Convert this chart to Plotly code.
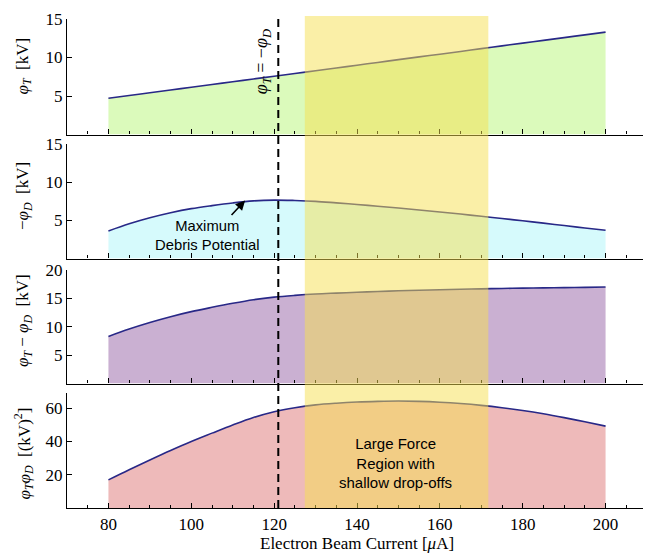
import plotly.graph_objects as go

# ---- data ----
current = [80, 85, 90, 95, 100, 105, 110, 115, 120, 125, 130, 135, 140, 145, 150, 155, 160, 165, 170, 175, 180, 185, 190, 195, 200]
phi_T = [4.70, 5.06, 5.42, 5.78, 6.13, 6.49, 6.85, 7.21, 7.57, 7.93, 8.28, 8.64, 9.00, 9.36, 9.72, 10.08, 10.43, 10.79, 11.15, 11.51, 11.87, 12.22, 12.58, 12.94, 13.30]
neg_phi_D = [3.60, 4.54, 5.33, 5.99, 6.53, 6.93, 7.28, 7.55, 7.65, 7.60, 7.49, 7.29, 7.08, 6.85, 6.62, 6.36, 6.10, 5.82, 5.53, 5.24, 4.94, 4.63, 4.32, 4.00, 3.70]
phi_diff = [8.30, 9.60, 10.75, 11.77, 12.66, 13.42, 14.13, 14.76, 15.22, 15.53, 15.77, 15.93, 16.08, 16.21, 16.34, 16.44, 16.53, 16.61, 16.68, 16.75, 16.81, 16.85, 16.90, 16.94, 17.00]
phi_prod = [16.9, 23.0, 28.9, 34.6, 40.0, 45.0, 49.9, 54.4, 57.9, 60.3, 62.0, 63.0, 63.7, 64.1, 64.3, 64.1, 63.6, 62.8, 61.7, 60.3, 58.6, 56.6, 54.3, 51.8, 49.2]

crossing_current = 121.0
band_start, band_end = 127.4, 171.7
max_debris_x, max_debris_y = 113.0, 7.6

x_ticks = [80, 100, 120, 140, 160, 180, 200]
y_ticks = [[5, 10, 15], [5, 10, 15], [5, 10, 15, 20], [20, 40, 60]]
y_ranges = [[0, 15], [0, 15], [0, 20], [0, 69.3]]
y_titles = ["<i>φ</i><sub><i>T</i></sub>  [kV]",
            "−<i>φ</i><sub><i>D</i></sub>  [kV]",
            "<i>φ</i><sub><i>T</i></sub> − <i>φ</i><sub><i>D</i></sub>  [kV]",
            "<i>φ</i><sub><i>T</i></sub><i>φ</i><sub><i>D</i></sub>  [(kV)<sup>2</sup>]"]
series = [phi_T, neg_phi_D, phi_diff, phi_prod]
fills = ["rgb(219,250,187)", "rgb(214,250,252)", "rgb(202,176,210)", "rgb(238,186,186)"]

# page has an 8px body margin: figure coordinates = reference pixels - OFF
OFF = 8
W, H = 651 - OFF, 554 - OFF
L, R, T, B = 67 - OFF, 4, 19 - OFF, 46
plot_h = H - T - B


def py(ypx):
    return (H - B - (ypx - OFF)) / plot_h


def px(xpx):
    return ((xpx - OFF) - L) / (W - L - R)


domains = [[py(134.5), 1.0], [py(258.5), py(144)], [py(383.5), py(270)], [0.0, py(392.7)]]
title_centers = [66.5, 196, 321, 453.5]

serif = "Liberation Serif"
sans = "Liberation Sans"
line_col = "rgb(40,40,135)"

fig = go.Figure()
layout = dict(
    width=W, height=H,
    margin=dict(l=L, r=R, t=T, b=B, autoexpand=False),
    paper_bgcolor="white", plot_bgcolor="white",
    showlegend=False,
    font=dict(family=serif, size=15, color="black"),
)

for i in range(4):
    n = "" if i == 0 else str(i + 1)
    fig.add_trace(go.Scatter(
        x=current, y=series[i], mode="lines",
        line=dict(color=line_col, width=1.6, shape="spline", smoothing=1.0),
        fill="tozeroy", fillcolor=fills[i],
        xaxis="x" + n, yaxis="y" + n, hoverinfo="skip"))
    layout["xaxis" + n] = dict(
        domain=[0, 1], anchor="y" + n, range=[70, 210], automargin=False,
        tickvals=x_ticks, ticktext=[str(v) for v in x_ticks] if i == 3 else [""] * len(x_ticks),
        ticks="inside", ticklen=5, tickwidth=1, tickcolor="black",
        minor=dict(dtick=5, tick0=0, ticks="inside", ticklen=3, tickcolor="black", tickwidth=1),
        showline=True, linecolor="black", linewidth=1.2, showgrid=False, zeroline=False,
        tickfont=dict(family=serif, size=17),
        **({} if i == 0 else dict(matches="x")),
    )
    layout["yaxis" + n] = dict(
        domain=domains[i], anchor="x" + n, range=y_ranges[i], automargin=False,
        tickvals=y_ticks[i], ticks="inside", ticklen=5, tickwidth=1, tickcolor="black",
        showline=True, linecolor="black", linewidth=1.2, showgrid=False, zeroline=False,
        tickfont=dict(family=serif, size=17),
    )

fig.update_layout(**layout)

# highlighted band (drawn above the curves)
fig.add_shape(type="rect", xref="x", yref="paper", x0=band_start, x1=band_end,
              y0=0, y1=py(16), fillcolor="rgb(246,224,80)", opacity=0.5,
              line=dict(width=0), layer="above")
# crossing line
fig.add_shape(type="line", xref="x", yref="paper", x0=crossing_current, x1=crossing_current,
              y0=0, y1=py(17), line=dict(color="black", width=2, dash="8px,5px"), layer="above")

annotations = []
for i in range(4):
    annotations.append(dict(text=y_titles[i], xref="paper", yref="paper", x=px(24), y=py(title_centers[i]),
                            showarrow=False, textangle=-90, xanchor="center", yanchor="middle",
                            font=dict(family=serif, size=17)))
annotations.append(dict(text="Electron Beam Current [<i>μ</i>A]", xref="paper", yref="paper",
                        x=px(357), y=py(543), showarrow=False, xanchor="center", yanchor="middle",
                        font=dict(family=serif, size=17)))
annotations.append(dict(text="<i>φ</i><sub><i>T</i></sub> = −<i>φ</i><sub><i>D</i></sub>",
                        xref="x", yref="paper", x=crossing_current, y=py(62), xshift=-16,
                        xanchor="center", yanchor="middle",
                        showarrow=False, textangle=-90, font=dict(family=serif, size=18)))
annotations.append(dict(text="Maximum<br>Debris Potential", xref="paper", yref="paper",
                        x=px(207), y=py(235), showarrow=False, xanchor="center", yanchor="middle",
                        font=dict(family=sans, size=14.8, color="black")))
annotations.append(dict(text="", xref="x2", yref="y2", x=max_debris_x, y=max_debris_y,
                        ax=-15, ay=16, showarrow=True, arrowhead=2, arrowsize=1.2, arrowwidth=1.6,
                        arrowcolor="black"))
annotations.append(dict(text="Large Force<br>Region with<br>shallow drop-offs", xref="paper", yref="paper",
                        x=px(395), y=py(463), showarrow=False, xanchor="center", yanchor="middle",
                        font=dict(family=sans, size=15, color="black")))
fig.update_layout(annotations=annotations)

fig.write_html("out.html")
